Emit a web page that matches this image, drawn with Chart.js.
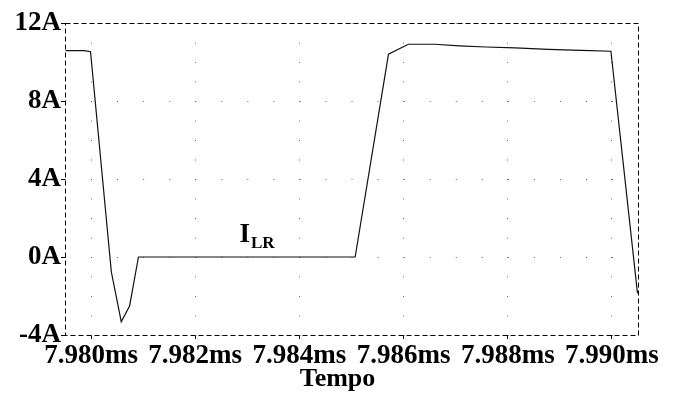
<!DOCTYPE html>
<html>
<head>
<meta charset="utf-8">
<title>I_LR</title>
<script src="https://cdn.jsdelivr.net/npm/chart.js@4/dist/chart.umd.min.js"></script>
<style>
  html, body { margin: 0; padding: 0; background: #fff; }
  canvas { display: block; }
</style>
</head>
<body>
<canvas id="c" width="682" height="396"></canvas>
<script>
// Inductor current waveform (time in ms, current in A)
const timeMs = [7.97951, 7.97987, 7.97999, 7.98039, 7.98058, 7.98074, 7.98091,
                7.98507, 7.98571, 7.98609, 7.98660, 7.98707, 7.98758, 7.98814,
                7.98878, 7.98941, 7.98998, 7.99049];
const currentA = [10.58, 10.58, 10.53, -0.77, -3.32, -2.51, 0.00,
                  0.00, 10.40, 10.91, 10.91, 10.83, 10.77, 10.72,
                  10.65, 10.60, 10.55, -1.86];

// Axis ticks
const timeTicks = [7.980, 7.982, 7.984, 7.986, 7.988, 7.990];
const currentTicks = [-4, 0, 4, 8, 12];

// Texts
const xAxisTitle = 'Tempo';
const traceName = 'I';
const traceSub = 'LR';

const SERIF = '"Liberation Serif", "Times New Roman", serif';

const points = timeMs.map((t, i) => ({ x: t, y: currentA[i] }));

const overlay = {
  id: 'overlay',
  afterDatasetsDraw(chart) {
    const { ctx, chartArea: a, scales: { x, y } } = chart;
    ctx.save();
    // dashed frame around the plot
    ctx.strokeStyle = '#000';
    ctx.lineWidth = 1;
    ctx.setLineDash([5, 3]);
    ctx.strokeRect(Math.round(a.left) + 0.5, Math.round(a.top) + 0.5,
                   Math.round(a.right - a.left), Math.round(a.bottom - a.top));
    ctx.setLineDash([]);

    // trace name with subscript
    ctx.fillStyle = '#000';
    ctx.textBaseline = 'alphabetic';
    ctx.textAlign = 'left';
    const lx = x.getPixelForValue(7.98285);
    const ly = y.getPixelForValue(0.78);
    ctx.font = 'bold 27px ' + SERIF;
    ctx.fillText(traceName, lx, ly);
    const w = ctx.measureText(traceName).width;
    ctx.font = 'bold 17px ' + SERIF;
    ctx.fillText(traceSub, lx + w + 1, ly + 6.5);

    // x axis title
    ctx.font = 'bold 26px ' + SERIF;
    ctx.textAlign = 'center';
    ctx.fillText(xAxisTitle, (a.left + a.right) / 2 - 14, 386);
    ctx.restore();
  }
};

new Chart(document.getElementById('c'), {
  type: 'line',
  data: {
    datasets: [{
      data: points,
      borderColor: '#111',
      borderWidth: 1.2,
      pointRadius: 0,
      tension: 0,
      fill: false
    }]
  },
  options: {
    responsive: false,
    animation: false,
    devicePixelRatio: 1,
    layout: { padding: { top: 23, right: 44, left: 0, bottom: 0 } },
    plugins: { legend: { display: false }, tooltip: { enabled: false } },
    scales: {
      x: {
        type: 'linear',
        min: 7.9795,
        max: 7.9905,
        afterBuildTicks: s => { s.ticks = timeTicks.map(v => ({ value: v })); },
        afterFit: s => { s.height = 61; },
        ticks: {
          autoSkip: false,
          maxRotation: 0,
          padding: 1,
          color: '#000',
          font: { family: SERIF, size: 27, weight: 'bold' },
          callback: v => Number(v).toFixed(3) + 'ms'
        },
        grid: {
          color: '#666',
          lineWidth: 1,
          tickLength: 4,
          tickColor: '#000',
          tickWidth: 1
        },
        border: { display: false, dash: [1, 18.5] }
      },
      y: {
        min: -4,
        max: 12,
        afterBuildTicks: s => { s.ticks = currentTicks.map(v => ({ value: v })); },
        afterFit: s => { s.width = 65; },
        ticks: {
          padding: 0,
          color: '#000',
          font: { family: SERIF, size: 27, weight: 'bold' },
          callback: v => v + 'A'
        },
        grid: {
          color: '#666',
          lineWidth: 1,
          tickLength: 4,
          tickColor: '#000',
          tickWidth: 1
        },
        border: { display: false, dash: [1, 25.05] }
      }
    }
  },
  plugins: [overlay]
});
</script>
</body>
</html>
